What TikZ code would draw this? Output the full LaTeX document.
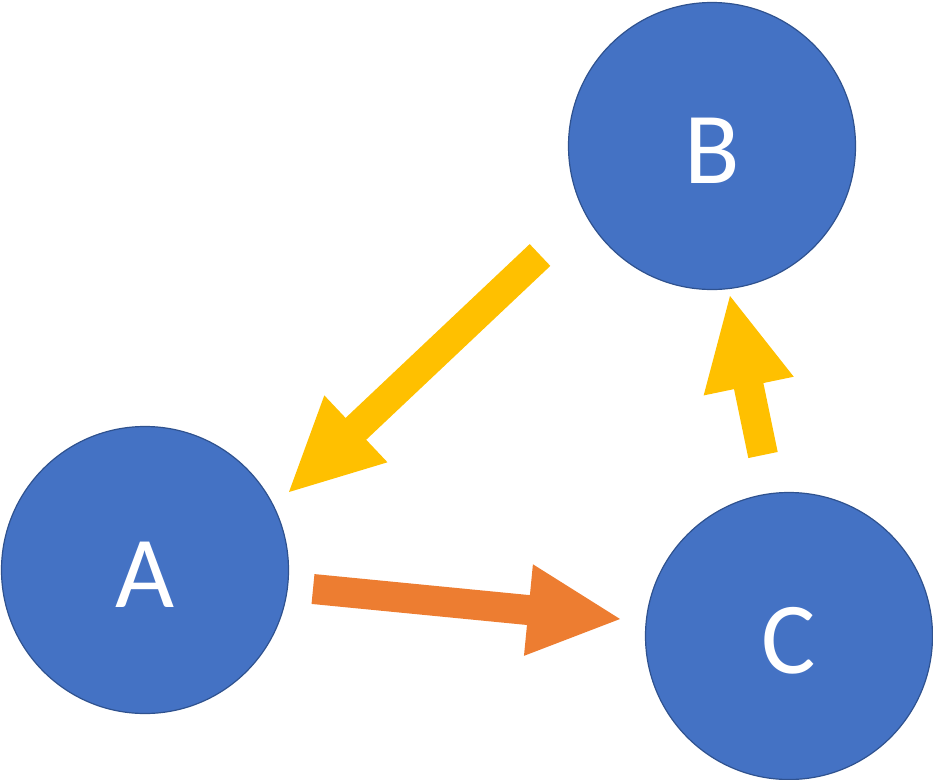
\documentclass[tikz,border=0pt]{standalone}
\usepackage{fontspec}
\setmainfont{Carlito}
\usetikzlibrary{calc}
\definecolor{nodeblue}{HTML}{4472C4}
\definecolor{nodeedge}{HTML}{2F528F}
\definecolor{arrowyellow}{HTML}{FFC000}
\definecolor{arroworange}{HTML}{ED7D31}
\tikzset{
  circ/.style={circle, fill=nodeblue, draw=nodeedge, line width=1.2pt,
    minimum size=287pt, inner sep=0pt, text=white,
    font=\fontsize{102}{102}\selectfont, text height=74pt, text depth=0pt},
}
\newcommand{\blockarrow}[3]{%
  \coordinate (hb) at ($(#3)!92pt!(#2)$);
  \fill[#1] ($(#2)!15pt!90:(#3)$) -- ($(hb)!15pt!90:(#3)$) -- ($(hb)!46pt!90:(#3)$)
    -- (#3) -- ($(hb)!46pt!-90:(#3)$) -- ($(hb)!15pt!-90:(#3)$)
    -- ($(#2)!15pt!-90:(#3)$) -- cycle;
}
\begin{document}
\begin{tikzpicture}[x=1pt,y=-1pt]
\useasboundingbox (0,0) rectangle (933,779);
\node[circ] (B) at (712,146) {B};
\node[circ] (A) at (145,570) {A};
\node[circ] (C) at (789,636) {C};
\coordinate (baTail) at (540,255);
\coordinate (baTip) at (289,492);
\coordinate (cbTail) at (763,455);
\coordinate (cbTip) at (730,296);
\coordinate (acTail) at (313,589);
\coordinate (acTip) at (620,619);
\blockarrow{arrowyellow}{baTail}{baTip}
\blockarrow{arrowyellow}{cbTail}{cbTip}
\blockarrow{arroworange}{acTail}{acTip}
\end{tikzpicture}
\end{document}
